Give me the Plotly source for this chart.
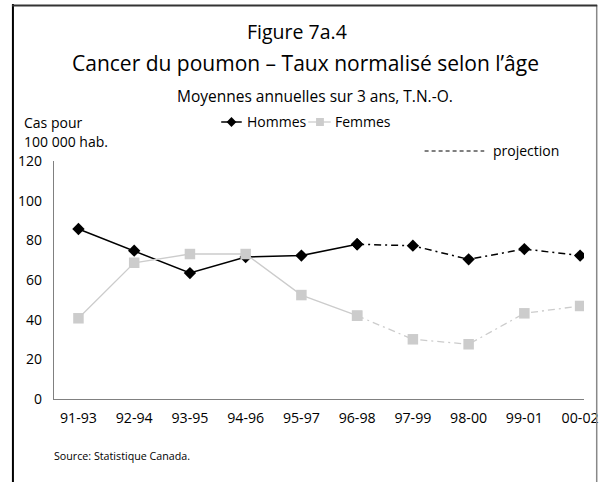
import plotly.graph_objects as go

periods = ["91-93", "92-94", "93-95", "94-96", "95-97",
           "96-98", "97-99", "98-00", "99-01", "00-02"]
hommes = [85.7, 74.8, 63.5, 71.6, 72.3, 78.0, 77.3, 70.4, 75.6, 72.3]
femmes = [40.7, 68.7, 73.1, 73.1, 52.4, 42.0, 30.1, 27.6, 43.2, 46.9]
proj_start = 5  # projection starts at 96-98

FONT = "Open Sans"
W, H = 611, 482
L, R, T, B = 54, 596, 161, 399   # plot area in pixels
BLACK, GREY = "black", "#cccccc"


def px(x):
    return (x - L) / (R - L)


def py(y):
    return (B - y) / (B - T)


def diamond(cx, cy, r):
    return (f"M{px(cx - r)},{py(cy)} L{px(cx)},{py(cy - r)} "
            f"L{px(cx + r)},{py(cy)} L{px(cx)},{py(cy + r)} Z")


def square(cx, cy, r):
    return (f"M{px(cx - r)},{py(cy - r)} L{px(cx + r)},{py(cy - r)} "
            f"L{px(cx + r)},{py(cy + r)} L{px(cx - r)},{py(cy + r)} Z")


fig = go.Figure()

dash_proj = "7px,4px,2px,4px"

# Hommes
fig.add_trace(go.Scatter(
    x=periods[:proj_start + 1], y=hommes[:proj_start + 1], name="Hommes",
    mode="lines+markers", line=dict(color=BLACK, width=1.5),
    marker=dict(symbol="diamond", size=9.5, color=BLACK)))
fig.add_trace(go.Scatter(
    x=periods[proj_start:], y=hommes[proj_start:], name="Hommes",
    mode="lines+markers", line=dict(color=BLACK, width=1.5, dash=dash_proj),
    marker=dict(symbol="diamond", size=9.5, color=BLACK)))

# Femmes
fig.add_trace(go.Scatter(
    x=periods[:proj_start + 1], y=femmes[:proj_start + 1], name="Femmes",
    mode="lines+markers", line=dict(color=GREY, width=1.3),
    marker=dict(symbol="square", size=10.5, color=GREY)))
fig.add_trace(go.Scatter(
    x=periods[proj_start:], y=femmes[proj_start:], name="Femmes",
    mode="lines+markers", line=dict(color=GREY, width=1.3, dash=dash_proj),
    marker=dict(symbol="square", size=10.5, color=GREY)))

annotations = [
    dict(text="Figure 7a.4", x=px(303), y=py(32), size=19.5, xanchor="center"),
    dict(text="Cancer du poumon \u2013 Taux normalisé selon l\u2019âge",
         x=px(311), y=py(63), size=21, xanchor="center"),
    dict(text="Moyennes annuelles sur 3 ans, T.N.-O.", x=px(320.5), y=py(96),
         size=15.5, xanchor="center"),
    dict(text="Cas pour", x=px(21), y=py(123), size=14, xanchor="left"),
    dict(text="100 000 hab.", x=px(21), y=py(141), size=14, xanchor="left"),
    dict(text="Hommes", x=px(249), y=py(122), size=14, xanchor="left"),
    dict(text="Femmes", x=px(339), y=py(122), size=14, xanchor="left"),
    dict(text="projection", x=px(501), y=py(151), size=14, xanchor="left"),
    dict(text="Source: Statistique Canada.", x=px(52), y=py(456), size=10.7,
         xanchor="left"),
]
for a in annotations:
    fig.add_annotation(text=a["text"], x=a["x"], y=a["y"], xref="paper",
                       yref="paper", xanchor=a["xanchor"], yanchor="middle",
                       showarrow=False,
                       font=dict(family=FONT, size=a["size"], color="black"))

# legend keys (drawn by hand, as in the original)
fig.add_shape(type="line", xref="paper", yref="paper",
              x0=px(225), x1=px(246), y0=py(122), y1=py(122),
              line=dict(color=BLACK, width=1.5))
fig.add_shape(type="path", xref="paper", yref="paper", path=diamond(235.5, 122, 5),
              fillcolor=BLACK, line=dict(width=0))
fig.add_shape(type="line", xref="paper", yref="paper",
              x0=px(314), x1=px(337), y0=py(122), y1=py(122),
              line=dict(color=GREY, width=1.3))
fig.add_shape(type="path", xref="paper", yref="paper", path=square(326, 122, 4),
              fillcolor=GREY, line=dict(width=0))
fig.add_shape(type="line", xref="paper", yref="paper",
              x0=px(433), x1=px(494), y0=py(151), y1=py(151),
              line=dict(color=BLACK, width=1, dash="4px,3px"))

# frame around the figure
fig.add_shape(type="line", xref="paper", yref="paper", layer="above",
              x0=px(12), x1=px(12), y0=py(4), y1=py(482),
              line=dict(color="black", width=2))
fig.add_shape(type="line", xref="paper", yref="paper", layer="above",
              x0=px(609), x1=px(609), y0=py(5), y1=py(482),
              line=dict(color="#888888", width=1.5))
fig.add_shape(type="line", xref="paper", yref="paper", layer="above",
              x0=px(11), x1=px(609.5), y0=py(5.5), y1=py(5.5),
              line=dict(color="#333333", width=2))

fig.update_layout(
    width=W, height=H,
    margin=dict(l=L, r=W - R, t=T, b=H - B, pad=0),
    paper_bgcolor="white", plot_bgcolor="white",
    font=dict(family=FONT, size=14, color="black"),
    showlegend=False,
)
fig.update_xaxes(type="category", range=[-0.4386, 9.07], showgrid=False,
                 showline=True, linecolor="#808080", linewidth=1.3,
                 ticks="", zeroline=False, tickfont=dict(size=14.2),
                 ticklabelstandoff=6)
fig.update_yaxes(range=[0, 120], dtick=20, showgrid=False, showline=True,
                 linecolor="#808080", linewidth=1.3, ticks="",
                 zeroline=False, tickfont=dict(size=14),
                 ticklabelstandoff=8)

# no page margin / scrollbars so the figure sits at the top-left corner
fig.write_html(
    "out.html", config={"displayModeBar": False},
    post_script="document.body.style.margin='0';"
                "document.body.style.overflow='hidden';"
                "document.documentElement.style.overflow='hidden';"
                "document.querySelectorAll('svg').forEach(function(s){"
                "s.style.overflow='hidden';});")
